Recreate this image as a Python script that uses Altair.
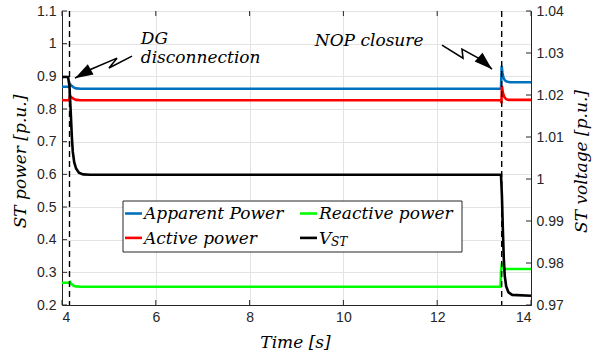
import altair as alt
import pandas as pd

# ---------------- data ----------------
t_apparent = [4.0, 4.15, 4.17, 4.20, 4.25, 4.30, 4.40, 13.36, 13.375, 13.39, 13.41, 13.44, 13.48, 13.55, 14.0]
v_apparent = [0.868, 0.868, 0.876, 0.872, 0.866, 0.863, 0.862, 0.862, 0.932, 0.912, 0.897, 0.888, 0.884, 0.882, 0.882]

t_active = [4.0, 4.15, 4.17, 4.20, 4.25, 4.30, 4.40, 13.36, 13.37, 13.38, 13.40, 13.43, 13.47, 13.52, 14.0]
v_active = [0.827, 0.827, 0.840, 0.836, 0.831, 0.828, 0.827, 0.827, 0.818, 0.871, 0.850, 0.837, 0.830, 0.828, 0.828]

t_reactive = [4.0, 4.15, 4.17, 4.20, 4.25, 4.30, 4.40, 13.35, 13.36, 13.38, 13.41, 13.45, 14.0]
v_reactive = [0.268, 0.268, 0.270, 0.264, 0.259, 0.257, 0.256, 0.256, 0.300, 0.328, 0.315, 0.310, 0.310]

t_vst = [4.0, 4.13, 4.16, 4.19, 4.21, 4.23, 4.26, 4.30, 4.36, 4.45, 4.6,
         13.36, 13.38, 13.40, 13.42, 13.44, 13.47, 13.52, 13.6, 14.0]
v_vst = [1.0243, 1.0243, 1.022, 1.015, 1.010, 1.0065, 1.004, 1.0025, 1.0015, 1.0011, 1.001,
         1.001, 0.996, 0.988, 0.981, 0.977, 0.9745, 0.9730, 0.9724, 0.9722]

event_times = [4.16, 13.375]

x_ticks = [4, 6, 8, 10, 12, 14]
left_ticks = [0.2, 0.3, 0.4, 0.5, 0.6, 0.7, 0.8, 0.9, 1.0, 1.1]
right_ticks = [0.97, 0.98, 0.99, 1.0, 1.01, 1.02, 1.03, 1.04]

ann_text = ["DG", "disconnection", "NOP closure"]
ann_x = [5.68, 5.68, 9.39]
ann_y = [0.999, 0.9394, 0.9924]

dg_arrow_x = [4.277, 4.618, 5.173, 5.002, 5.493]
dg_arrow_y = [0.8945, 0.922, 0.9557, 0.9257, 0.9618]
nop_arrow_x = [12.102, 12.55, 12.529, 12.955, 13.168]
nop_arrow_y = [0.9954, 0.9557, 0.9832, 0.9495, 0.922]

legend_labels = ["Apparent Power", "Active power", "Reactive power", "V"]
legend_colors = ["#0072BD", "#FF0000", "#00FF00", "#000000"]

# ---------------- layout ----------------
W, H = 469, 294
AX = "#262626"
SERIF = "DejaVu Serif"
SANS = "Liberation Sans"

xscale = alt.Scale(domain=[4, 14], nice=False, zero=False)
lscale = alt.Scale(domain=[0.2, 1.1], nice=False, zero=False)
rscale = alt.Scale(domain=[0.97, 1.04], nice=False, zero=False)

xaxis = alt.Axis(values=x_ticks, format="~g", grid=True, gridColor="#e3e3e3", ticks=False,
                 domainColor=AX, labelColor=AX, labelFont=SANS, labelFontSize=14, labelPadding=5,
                 title="Time [s]", titleFont=SERIF, titleFontStyle="italic", titleFontWeight="normal",
                 titleFontSize=17, titleColor="black", titleX=233, titleY=42,
                 titleAlign="center", titleBaseline="alphabetic")
laxis = alt.Axis(values=left_ticks, format="~g", grid=True, gridColor="#e3e3e3", ticks=False,
                 domainColor=AX, labelColor=AX, labelFont=SANS, labelFontSize=14, labelPadding=6,
                 title="ST power [p.u.]", titleFont=SERIF, titleFontStyle="italic", titleFontWeight="normal",
                 titleFontSize=17, titleColor="black", titleAngle=270, titleX=-37, titleY=150,
                 titleAlign="center", titleBaseline="alphabetic")
raxis = alt.Axis(orient="right", values=right_ticks, format="~g", grid=False, ticks=False,
                 domainColor=AX, labelColor=AX, labelFont=SANS, labelFontSize=14, labelPadding=5,
                 title="ST voltage [p.u.]", titleFont=SERIF, titleFontStyle="italic", titleFontWeight="normal",
                 titleFontSize=17, titleColor="black", titleAngle=270, titleX=55, titleY=150,
                 titleAlign="center", titleBaseline="alphabetic")


def X(field="t"):
    return alt.X(f"{field}:Q", scale=xscale, axis=xaxis)


def series_layer(t, v, color, scale, axis, width=2.6):
    df = pd.DataFrame({"t": t, "v": v})
    return alt.Chart(df).mark_line(color=color, strokeWidth=width).encode(
        x=X(), y=alt.Y("v:Q", scale=scale, axis=axis))


# left group: power series + inward ticks
blue = series_layer(t_apparent, v_apparent, legend_colors[0], lscale, laxis)
red = series_layer(t_active, v_active, legend_colors[1], lscale, laxis)
green = series_layer(t_reactive, v_reactive, legend_colors[2], lscale, laxis)

lt_df = pd.DataFrame({"v": left_ticks})
left_tk = alt.Chart(lt_df).mark_rule(color=AX, strokeWidth=1).encode(
    y=alt.Y("v:Q", scale=lscale, axis=laxis), x=alt.value(0), x2=alt.value(5))
xt_df = pd.DataFrame({"t": x_ticks})
x_tk_bottom = alt.Chart(xt_df).mark_rule(color=AX, strokeWidth=1).encode(
    x=X(), y=alt.value(H), y2=alt.value(H - 5))
x_tk_top = alt.Chart(xt_df).mark_rule(color=AX, strokeWidth=1).encode(
    x=X(), y=alt.value(0), y2=alt.value(5))

left_group = alt.layer(left_tk, x_tk_bottom, x_tk_top, blue, red, green)

# right group: voltage + inward ticks
black = series_layer(t_vst, v_vst, "#000000", rscale, raxis)
rt_df = pd.DataFrame({"v": right_ticks})
right_tk = alt.Chart(rt_df).mark_rule(color=AX, strokeWidth=1).encode(
    y=alt.Y("v:Q", scale=rscale, axis=raxis), x=alt.value(W), x2=alt.value(W - 5))
right_group = alt.layer(right_tk, black)

# top group: events, annotations, legend
noaxis_y = lambda f: alt.Y(f"{f}:Q", scale=lscale, axis=None)

ev = alt.Chart(pd.DataFrame({"t": event_times})).mark_rule(
    color="black", strokeWidth=1.4, strokeDash=[6, 4]).encode(x=X())

arrow_df = pd.concat([
    pd.DataFrame({"t": dg_arrow_x, "v": dg_arrow_y, "id": "dg", "k": range(len(dg_arrow_x))}),
    pd.DataFrame({"t": nop_arrow_x, "v": nop_arrow_y, "id": "nop", "k": range(len(nop_arrow_x))}),
])
arrows = alt.Chart(arrow_df).mark_line(color="black", strokeWidth=1.6).encode(
    x=X(), y=noaxis_y("v"), detail="id:N", order="k:Q")

head_path = "M0,0L0.65,2L-0.65,2Z"
head_dg = alt.Chart(pd.DataFrame({"t": [dg_arrow_x[0]], "v": [dg_arrow_y[0]]})).mark_point(
    shape=head_path, filled=True, color="black", opacity=1, size=324, angle=240.6).encode(
    x=X(), y=noaxis_y("v"))
head_nop = alt.Chart(pd.DataFrame({"t": [nop_arrow_x[-1]], "v": [nop_arrow_y[-1]]})).mark_point(
    shape=head_path, filled=True, color="black", opacity=1, size=324, angle=132).encode(
    x=X(), y=noaxis_y("v"))

ann = alt.Chart(pd.DataFrame({"t": ann_x, "v": ann_y, "s": ann_text})).mark_text(
    font=SERIF, fontStyle="italic", fontSize=17, align="left", baseline="alphabetic", color="black").encode(
    x=X(), y=noaxis_y("v"), text="s:N")

one = pd.DataFrame({"a": [0]})
legend_box = alt.Chart(one).mark_rect(fill="white", stroke=AX, strokeWidth=1).encode(
    x=alt.value(61), x2=alt.value(400), y=alt.value(190), y2=alt.value(241))
legend_parts = [legend_box]
item_pos = [(63, 202.5), (63, 226.9), (238, 202.5), (238, 226.9)]
for lab, col, (lx, ly) in zip(legend_labels, legend_colors, item_pos):
    legend_parts.append(alt.Chart(one).mark_rule(color=col, strokeWidth=2.6).encode(
        x=alt.value(lx), x2=alt.value(lx + 17), y=alt.value(ly)))
    legend_parts.append(alt.Chart(one).mark_text(
        text=lab, font=SERIF, fontStyle="italic", fontSize=17, align="left",
        baseline="alphabetic", color="black").encode(x=alt.value(lx + 19), y=alt.value(ly + 5.7)))
legend_parts.append(alt.Chart(one).mark_text(
    text="ST", font=SERIF, fontStyle="italic", fontSize=12, align="left",
    baseline="alphabetic", color="black").encode(x=alt.value(269), y=alt.value(234.5)))

top_group = alt.layer(ev, arrows, head_dg, head_nop, ann, *legend_parts)

chart = alt.layer(left_group, right_group, top_group).resolve_scale(y="independent").properties(
    width=W, height=H,
    padding={"left": 62, "top": 11, "right": 61, "bottom": 55},
    autosize=alt.AutoSizeParams(type="none"),
    background="white",
).configure_view(stroke=AX, strokeWidth=1)

chart.save("out.html", embed_options={"renderer": "svg", "actions": False})
